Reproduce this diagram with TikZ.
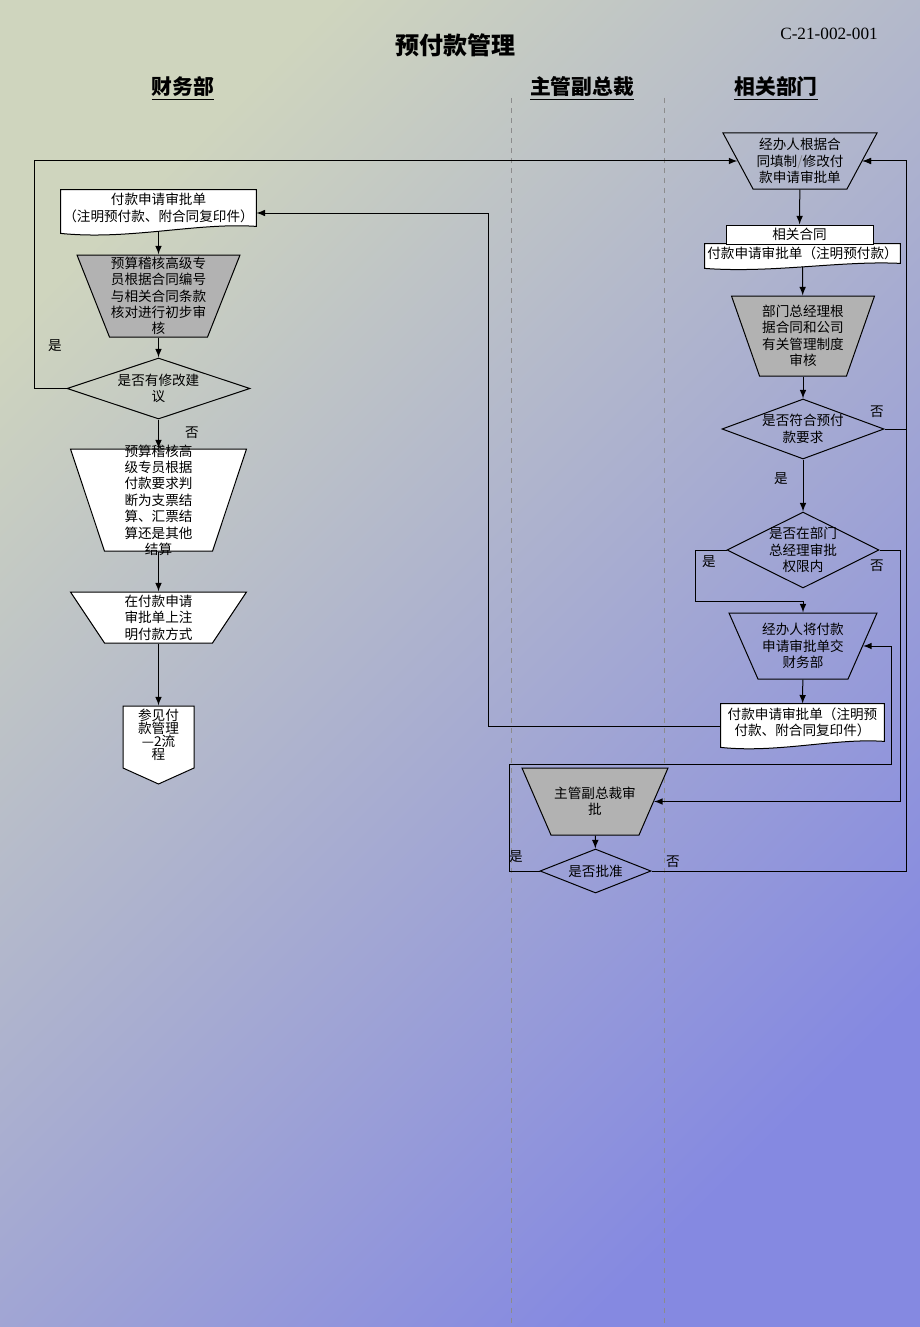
\documentclass[tikz,border=0pt]{standalone}
\usepackage{fontspec}
\setmainfont{Noto Sans CJK SC}
\newfontfamily\codefont{Liberation Serif}
\usepackage{tikz}
\usetikzlibrary{shapes,arrows,calc,positioning}
\usepackage{xcolor}
\definecolor{bgTop}{HTML}{CFD5BE}
\definecolor{bgBottom}{HTML}{8589E1}
\definecolor{boxGray}{HTML}{B2B2B2}
\definecolor{laneGray}{HTML}{8C8C8C}
\pgfdeclarelayer{bg}
\pgfsetlayers{bg,main}
\newcommand\docshape[2]{%
  \begin{pgfonlayer}{bg}
  \filldraw[fill=white, line width=0.5pt] (#1.north west) -- (#1.north east) -- (#1.south east)
    .. controls ($(#1.south east)!0.3!(#1.south west)+(0,-0.6*#2)$) and ($(#1.south east)!0.65!(#1.south west)+(0,2*#2)$) .. ($(#1.south west)+(0,#2)$) -- cycle;
  \end{pgfonlayer}}

\begin{document}
\begin{tikzpicture}[x=0.5pt,y=-0.5pt,>=latex]
            \tikzset{every node/.style={font=\fontsize{6.8}{8.2}\selectfont, align=center, inner sep=0pt},
                     arr/.style={->, line width=0.5pt},
                     lane/.style={laneGray, dash pattern=on 2.5pt off 2.5pt, line width=0.4pt},
                     head/.style={font=\fontsize{10.4}{12}\selectfont\bfseries},
                     hand/.style={trapezium, shape border rotate=180, trapezium stretches body, text depth=0pt, draw, line width=0.5pt},
                     ask/.style={diamond, draw, line width=0.5pt}}
            \useasboundingbox (0,0) rectangle (920,1327);
            \begin{pgfonlayer}{bg}
               \shade[top color=bgTop, bottom color=bgBottom, shading angle=45] (0,0) rectangle (920,1327);
               \draw[lane] (511,98) -- (511,1327);
               \draw[lane] (664,98) -- (664,1327);
            \end{pgfonlayer}
            % titles
            \node[font=\fontsize{12}{14}\selectfont\bfseries] (title) at (455,45) {预付款管理};
            \node[font=\codefont\fontsize{8.6}{10}\selectfont] (code) at (829,34) {C-21-002-001};
            \node[head] (caiWu) at (183,89) {\underline{财务部}};
            \node[head] (fuZong) at (582,89) {\underline{主管副总裁}};
            \node[head] (xiangGuan) at (776,89) {\underline{相关部门}};
            % finance
            \node[minimum width=97.5pt, minimum height=18pt] (formIn) at (158.5,208) {付款申请审批单\\（注明预付款、附合同复印件）};
            \docshape{formIn}{7}
            \node[hand, fill=boxGray, minimum width=81.5pt, text height=41pt, trapezium angle=68.4,
                  label=center:{预算稽核高级专\\员根据合同编号\\与相关合同条款\\核对进行初步审\\核}] (firstCheck) at (158.5,296) {};
            \node[ask, minimum width=91.5pt, minimum height=30.5pt, label=center:{是否有修改建\\议}] (hasChanges) at (158.5,388.5) {};
            \node[hand, fill=white, minimum width=88pt, text height=51pt, trapezium angle=71.6,
                  label=center:{预算稽核高\\级专员根据\\付款要求判\\断为支票结\\算、汇票结\\算还是其他\\结算}] (choosePay) at (158.5,500) {};
            \node[hand, fill=white, minimum width=88pt, text height=25.5pt, trapezium angle=56.3,
                  label=center:{在付款申请\\审批单上注\\明付款方式}] (markPay) at (158.5,617.5) {};
            \node[signal, signal to=south, signal from=nowhere, signal pointer angle=131.5, draw, fill=white, line width=0.5pt,
                  minimum width=35.5pt, minimum height=31pt,
                  label={[yshift=1.2pt, font=\fontsize{6.8}{6.6}\selectfont]center:{参见付\\款管理\\—2流\\程}}] (seeFlow) at (158.5,737) {};
            % department
            \node[hand, minimum width=77pt, text height=28pt, trapezium angle=61.8,
                  label=center:{经办人根据合\\同填制{\color{gray}/}修改付\\款申请审批单}] (fillForm) at (800,161) {};
            \node[draw, fill=white, line width=0.5pt, minimum width=73.5pt, minimum height=9.5pt] (contract) at (799.5,234.5) {相关合同};
            \node[minimum width=97.5pt, minimum height=9.5pt] (requestForm) at (802.5,253.5) {付款申请审批单（注明预付款）};
            \docshape{requestForm}{5}
            \node[hand, fill=boxGray, minimum width=71.5pt, text height=40pt, trapezium angle=70.7,
                  label=center:{部门总经理根\\据合同和公司\\有关管理制度\\审核}] (deptReview) at (803,336) {};
            \node[ask, minimum width=81pt, minimum height=30pt, label=center:{是否符合预付\\款要求}] (meetsRule) at (803,429) {};
            \node[ask, minimum width=76pt, minimum height=38pt, label=center:{是否在部门\\总经理审批\\权限内}] (inLimit) at (803,550) {};
            \node[hand, minimum width=74pt, text height=33pt, trapezium angle=66.3,
                  label=center:{经办人将付款\\申请审批单交\\财务部}] (handOver) at (803,646) {};
            \node[minimum width=81.5pt, minimum height=18.5pt] (sentForm) at (802.5,722.5) {付款申请审批单（注明预\\付款、附合同复印件）};
            \docshape{sentForm}{6}
            % vice president
            \node[hand, fill=boxGray, minimum width=73pt, text height=33.5pt, trapezium angle=66.6,
                  label=center:{主管副总裁审\\批}] (vpReview) at (595,801.5) {};
            \node[ask, minimum width=55.5pt, minimum height=22pt, label=center:{是否批准}] (vpApprove) at (595.5,871) {};
            % yes / no
            \node (yes1) at (55,346) {是};
            \node (no1) at (192,433) {否};
            \node (no2) at (877,412) {否};
            \node (yes2) at (781,479) {是};
            \node (yes3) at (709,562) {是};
            \node (no3) at (877,566) {否};
            \node (yes4) at (516,857) {是};
            \node (no4) at (673,862) {否};
            % connectors
            \draw[arr] ([yshift=-2.3pt]formIn.south) -- (firstCheck);
            \draw[arr] (firstCheck) -- (hasChanges);
            \draw[arr] (hasChanges) -- (choosePay);
            \draw[arr] (choosePay) -- (markPay);
            \draw[arr] (markPay) -- (seeFlow);
            \draw[arr] (hasChanges.west) -- ++(-32,0) |- (fillForm);
            \draw[arr] (fillForm) -- (contract);
            \draw[arr] ([yshift=-1.6pt]requestForm.south) -- (deptReview);
            \draw[arr] (deptReview) -- (meetsRule);
            \draw[arr] (meetsRule.east) -- ++(22,0) |- (fillForm);
            \draw[arr] (meetsRule) -- (inLimit);
            \draw[arr] (inLimit.west) -| ++(-31,51) -| (handOver);
            \draw[arr] (inLimit.east) -- ++(21,0) |- (vpReview);
            \draw[arr] (handOver) -- (sentForm);
            \draw[arr] ([yshift=-2.2pt]sentForm.west) -- ++(-232,0) |- ([yshift=-2.5pt]formIn.east);
            \draw[arr] (vpReview) -- (vpApprove);
            \draw[arr] (vpApprove.west) -- ++(-30,0) |- ++(382,-107) |- (handOver);
            \draw[arr] (vpApprove.east) -- ++(255,0) |- (fillForm);
\end{tikzpicture}
\end{document}
